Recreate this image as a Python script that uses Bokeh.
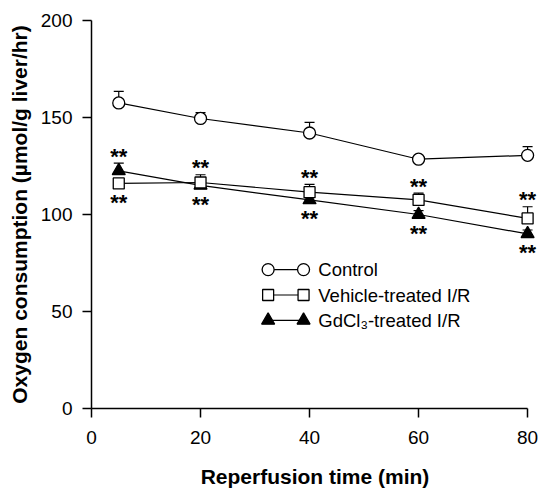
import numpy as np
from bokeh.plotting import figure
from bokeh.models import Range1d, FixedTicker
from bokeh.core.properties import value
from bokeh.embed import file_html
from bokeh.resources import INLINE

# ---------------- data ----------------
time_min = [5, 20, 40, 60, 80]
control = [157.5, 149.5, 142.0, 128.5, 130.5]
control_err = [6.0, 3.0, 5.5, 1.5, 4.5]
vehicle = [116.0, 116.5, 111.5, 107.5, 98.0]
vehicle_err = [2.0, 4.0, 4.0, 3.5, 6.0]
gdcl3 = [122.5, 115.0, 107.5, 100.0, 90.0]
gdcl3_err = [4.0, 2.0, 2.0, 2.0, 2.0]
x_ticks = [0, 20, 40, 60, 80]
y_ticks = [0, 50, 100, 150, 200]
series_names = ["Control", "Vehicle-treated I/R", "GdCl\u2083-treated I/R"]
sig_mark = "**"
x_title = "Reperfusion time (min)"
y_title = "Oxygen consumption (\u00b5mol/g liver/hr)"

# ---------------- styles / layout ----------------
FONT = "Liberation Sans"
BLACK = "#000000"

p = figure(width=538, height=490,
           x_range=Range1d(0, 82.0), y_range=Range1d(0, 200),
           output_backend="svg", toolbar_location=None,
           min_border_left=91, min_border_right=0,
           min_border_top=20, min_border_bottom=82)
p.outline_line_color = None
p.xgrid.visible = False
p.ygrid.visible = False
p.background_fill_color = "white"

p.xaxis.ticker = FixedTicker(ticks=x_ticks)
p.yaxis.ticker = FixedTicker(ticks=y_ticks)
p.xaxis.bounds = (0, 80)
for ax in (p.xaxis, p.yaxis):
    ax.axis_line_color = BLACK
    ax.axis_line_width = 1.5
    ax.major_tick_line_color = BLACK
    ax.major_tick_line_width = 1.5
    ax.major_tick_out = 9
    ax.major_tick_in = 0
    ax.minor_tick_out = 0
    ax.minor_tick_in = 0
    ax.major_label_text_font = FONT
    ax.major_label_text_font_size = "19px"
    ax.major_label_text_color = BLACK
    ax.axis_label_text_font = FONT
    ax.axis_label_text_font_size = "21px"
    ax.axis_label_text_font_style = "bold"
    ax.axis_label_text_color = BLACK
p.xaxis.major_label_standoff = 13
p.yaxis.major_label_standoff = 10
p.xaxis.axis_label = x_title
p.yaxis.axis_label = y_title
p.xaxis.axis_label_standoff = 18
p.yaxis.axis_label_standoff = 7

LW = 1.2

def draw_series(ys, errs, marker, size, fill):
    ys = np.asarray(ys)
    errs = np.asarray(errs)
    p.line(time_min, ys, line_color=BLACK, line_width=LW)
    p.segment(x0=time_min, y0=ys, x1=time_min, y1=ys + errs,
              line_color=BLACK, line_width=LW)
    p.scatter(time_min, ys + errs, marker="dash", size=10,
              line_color=BLACK, line_width=LW)
    p.scatter(time_min, ys, marker=marker, size=size,
              fill_color=fill, line_color=BLACK, line_width=1.3)

draw_series(gdcl3, gdcl3_err, "triangle", 13, BLACK)
draw_series(vehicle, vehicle_err, "square", 11, "white")
draw_series(control, control_err, "circle", 12, "white")

# significance marks
veh = np.asarray(vehicle); veh_e = np.asarray(vehicle_err)
gd = np.asarray(gdcl3); gd_e = np.asarray(gdcl3_err)
above_y = np.maximum(veh + veh_e, gd + gd_e)
below_y = np.minimum(veh, gd)
for ys, off in ((above_y, -7), (below_y, 19)):
    p.text(x=time_min, y=list(ys), text=[sig_mark] * len(time_min),
           text_align="center", text_baseline="alphabetic", y_offset=off,
           text_font=value(FONT), text_font_style="bold",
           text_font_size="22px", text_color=BLACK)

# legend (drawn manually: marker-line-marker)
leg_x0, leg_x1, leg_tx = 32.4, 38.9, 41.6
leg_y0, leg_dy = 71.6, -13.1
leg_styles = [("circle", 12, "white"), ("square", 11, "white"), ("triangle", 13, BLACK)]
for i, (name, (mk, sz, fc)) in enumerate(zip(series_names, leg_styles)):
    yy = leg_y0 + i * leg_dy
    p.segment(x0=[leg_x0], y0=[yy], x1=[leg_x1], y1=[yy], line_color=BLACK, line_width=LW)
    p.scatter([leg_x0, leg_x1], [yy, yy], marker=mk, size=sz,
              fill_color=fc, line_color=BLACK, line_width=1.3)
    p.text(x=[leg_tx], y=[yy], text=[name], text_align="left", text_baseline="middle",
           text_font=value(FONT), text_font_size="18.5px", text_color=BLACK)

open("out.html", "w").write(file_html(p, INLINE))
